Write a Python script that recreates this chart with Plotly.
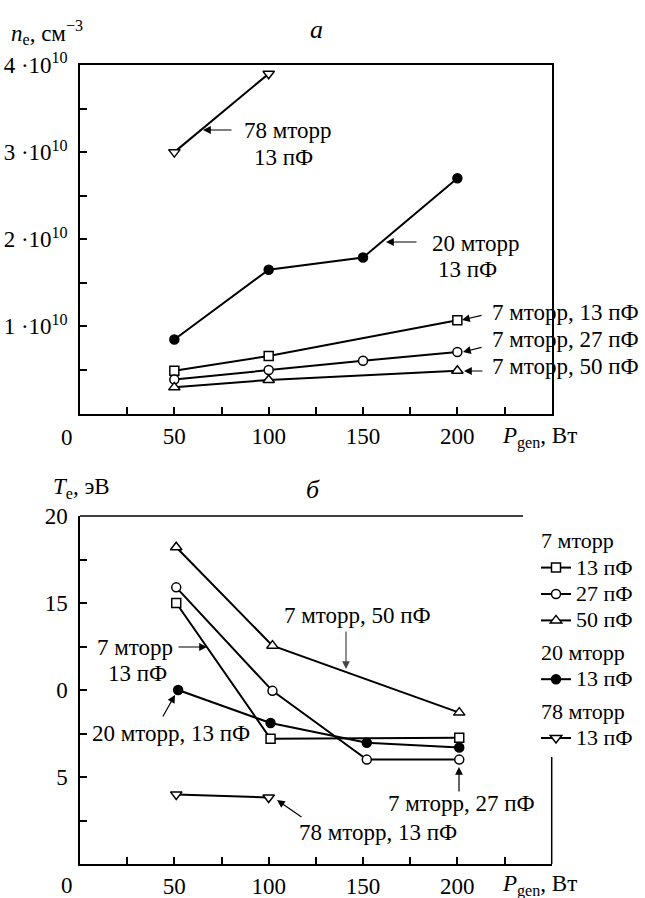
import plotly.graph_objects as go

W, H = 645, 898
FONT = "Liberation Serif"

# ---------------- data ----------------
# (a) electron density n_e, cm^-3 vs generator power P_gen, W
ne_78_13_x = [50, 100]
ne_78_13 = [3.0e10, 3.9e10]
ne_20_13_x = [50, 100, 150, 200]
ne_20_13 = [0.85e10, 1.65e10, 1.79e10, 2.70e10]
ne_7_13_x = [50, 100, 200]
ne_7_13 = [0.49e10, 0.66e10, 1.07e10]
ne_7_27_x = [50, 100, 150, 200]
ne_7_27 = [0.39e10, 0.50e10, 0.605e10, 0.705e10]
ne_7_50_x = [50, 100, 200]
ne_7_50 = [0.30e10, 0.385e10, 0.49e10]

# (b) electron temperature T_e, eV vs generator power P_gen, W
te_7_13_x = [51, 101, 201]
te_7_13 = [15.0, 7.2, 7.25]
te_7_27_x = [51, 102, 152, 201]
te_7_27 = [15.9, 9.95, 6.0, 6.0]
te_7_50_x = [51, 102, 201]
te_7_50 = [18.2, 12.55, 8.7]
te_20_13_x = [52, 101, 152, 201]
te_20_13 = [10.0, 8.1, 6.97, 6.7]
te_78_13_x = [51, 100]
te_78_13 = [4.0, 3.82]

x_tickvals = [50, 100, 150, 200]
x_ticktext = ["50", "100", "150", "200"]
x_minor = [25, 75, 125, 175, 225]
ne_tickvals = [1e10, 2e10, 3e10, 4e10]
ne_ticktext = ["1 ·10<sup>10</sup>", "2 ·10<sup>10</sup>",
               "3 ·10<sup>10</sup>", "4 ·10<sup>10</sup>"]
ne_minor = [0.5e10, 1.5e10, 2.5e10, 3.5e10]
te_tickvals = [5, 10, 15, 20]
te_ticktext = ["5", "0", "15", "20"]
te_minor = [2.5, 7.5, 12.5, 17.5]

def px(x):
    return x / W

def py(y):
    return 1 - y / H

X0, X1 = 80, 551.7
TOP_T, TOP_B = 65, 413.5
BOT_T, BOT_B = 516, 864

def big(t):
    return '<span style="font-size:22px">' + t + '</span>'

fig = go.Figure()

def add(x, y, symbol, size, fill, xa, ya, name=None, group=None, gtitle=None, show=False):
    fig.add_trace(go.Scatter(
        x=x, y=y, mode="lines+markers", xaxis=xa, yaxis=ya,
        line=dict(color="black", width=2),
        marker=dict(symbol=symbol, size=size, color=fill,
                    line=dict(color="black", width=1.5)),
        name=big(name) if name else None, legendgroup=group,
        legendgrouptitle=dict(text=big(gtitle)) if gtitle else None,
        showlegend=show,
    ))

add(ne_78_13_x, ne_78_13, "triangle-down", 10, "white", "x", "y")
add(ne_20_13_x, ne_20_13, "circle", 9, "black", "x", "y")
add(ne_7_13_x, ne_7_13, "square", 9, "white", "x", "y")
add(ne_7_27_x, ne_7_27, "circle", 9, "white", "x", "y")
add(ne_7_50_x, ne_7_50, "triangle-up", 10, "white", "x", "y")

add(te_7_13_x, te_7_13, "square", 9, "white", "x2", "y2", "13 пФ", "g7", "7 мторр", True)
add(te_7_27_x, te_7_27, "circle", 9, "white", "x2", "y2", "27 пФ", "g7", "7 мторр", True)
add(te_7_50_x, te_7_50, "triangle-up", 10, "white", "x2", "y2", "50 пФ", "g7", "7 мторр", True)
add(te_20_13_x, te_20_13, "circle", 9, "black", "x2", "y2", "13 пФ", "g20", "20 мторр", True)
add(te_78_13_x, te_78_13, "triangle-down", 10, "white", "x2", "y2", "13 пФ", "g78", "78 мторр", True)

tickfont = dict(family=FONT, size=23, color="black")
minor = dict(ticks="inside", ticklen=7, tickwidth=1.5, tickcolor="black", showgrid=False)
common_x = dict(range=[0, 250], tickmode="array", tickvals=x_tickvals, ticktext=x_ticktext,
                ticks="inside", ticklen=7, tickwidth=1.5, tickcolor="black",
                minor=dict(**minor, tickmode="array", tickvals=x_minor),
                showline=True, linecolor="black", linewidth=1.5, showgrid=False,
                zeroline=False, tickfont=tickfont, ticklabelstandoff=1,
                automargin=False, domain=[px(X0), px(X1)])
common_y = dict(tickmode="array", ticks="inside", ticklen=7, tickwidth=1.5, tickcolor="black",
                showline=True, linecolor="black", linewidth=1.5, showgrid=False,
                zeroline=False, tickfont=tickfont, ticklabelstandoff=6, automargin=False)

fig.update_layout(
    width=W, height=H, margin=dict(l=0, r=0, t=0, b=0, pad=0, autoexpand=False),
    paper_bgcolor="white", plot_bgcolor="white",
    font=dict(family=FONT, size=23, color="black"),
    xaxis=dict(**common_x, anchor="y", mirror=True),
    yaxis=dict(**common_y, range=[0, 4e10], tickvals=ne_tickvals, ticktext=ne_ticktext,
               minor=dict(**minor, tickmode="array", tickvals=ne_minor),
               anchor="x", mirror=True, domain=[py(TOP_B), py(TOP_T)]),
    xaxis2=dict(**common_x, anchor="y2"),
    yaxis2=dict(**common_y, range=[0, 20], tickvals=te_tickvals, ticktext=te_ticktext,
                minor=dict(**minor, tickmode="array", tickvals=te_minor),
                anchor="x2", domain=[py(BOT_B), py(BOT_T)]),
    legend=dict(x=px(536), y=py(523), xanchor="left", yanchor="top",
                font=dict(family=FONT, size=18, color="black"),
                grouptitlefont=dict(family=FONT, size=18, color="black"),
                traceorder="grouped", tracegroupgap=6, bgcolor="rgba(0,0,0,0)",
                itemwidth=30),
    showlegend=True,
)

# frame of bottom panel (broken by the legend)
fig.add_shape(type="line", xref="paper", yref="paper", x0=px(X0), x1=px(523),
              y0=py(BOT_T), y1=py(BOT_T), line=dict(color="black", width=1.5))
fig.add_shape(type="line", xref="paper", yref="paper", x0=px(X1), x1=px(X1),
              y0=py(757), y1=py(BOT_B), line=dict(color="black", width=1.5))

def text(t, x, y, xanchor="left", size=23):
    fig.add_annotation(text=t, x=px(x), y=py(y), xref="paper", yref="paper",
                       xanchor=xanchor, yanchor="middle", showarrow=False,
                       font=dict(family=FONT, size=size, color="black"))

def arrow(hx, hy, tx, ty, color="black"):
    fig.add_annotation(text="", x=px(hx), y=py(hy), xref="paper", yref="paper",
                       ax=tx - hx, ay=ty - hy, axref="pixel", ayref="pixel",
                       showarrow=True, arrowhead=2, arrowsize=1.3, arrowwidth=1.2,
                       arrowcolor=color)

# axis titles and panel letters
text("<i>n</i><sub>e</sub>, см<sup>−3</sup>", 9, 32)
text("<i>а</i>", 316, 30, "center", 26)
text("<i>P</i><sub>gen</sub>, Вт", 500, 437)
text("0", 67, 437, "center")
text("<i>T</i><sub>e</sub>, эВ", 51, 488)
text("<i>б</i>", 313, 490, "center", 26)
text("<i>P</i><sub>gen</sub>, Вт", 500, 885)
text("0", 67, 885, "center")

# top panel labels
text("78 мторр", 242, 131)
text("13 пФ", 283, 158, "center")
arrow(203, 130, 233, 130)
text("20 мторр", 430, 243)
text("13 пФ", 467, 269, "center")
arrow(386, 242, 418, 242)
text("7 мторр, 13 пФ", 490, 312)
arrow(462, 320, 483, 315)
text("7 мторр, 27 пФ", 490, 340)
arrow(463, 352, 483, 347)
text("7 мторр, 50 пФ", 490, 366)
arrow(464, 371, 484, 371)

# bottom panel labels
text("7 мторр", 95, 647)
text("13 пФ", 137, 673, "center")
arrow(207, 647, 177, 647)
text("20 мторр, 13 пФ", 90, 733)
arrow(175, 695, 162, 718)
text("7 мторр, 50 пФ", 282, 615)
arrow(346, 669, 346, 630, "#444444")
text("7 мторр, 27 пФ", 386, 803)
arrow(459, 767, 459, 793)
text("78 мторр, 13 пФ", 297, 832)
arrow(277, 800, 303, 818)

fig.write_html("out.html")
